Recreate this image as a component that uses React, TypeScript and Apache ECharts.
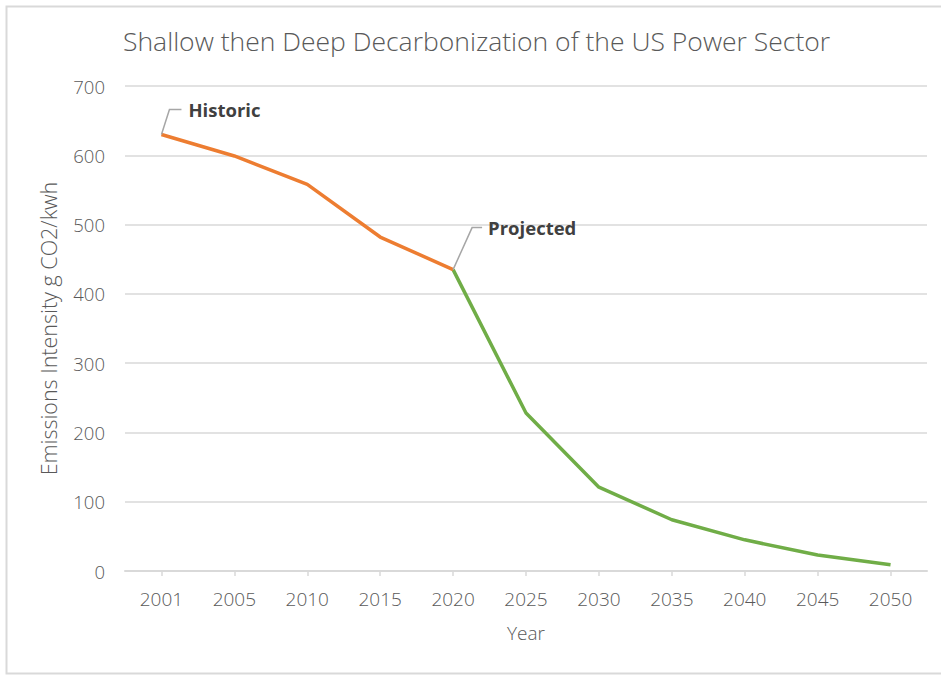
import React, { useEffect, useRef } from "react";
import * as echarts from "echarts";

const years = ["2001", "2005", "2010", "2015", "2020", "2025", "2030", "2035", "2040", "2045", "2050"];
const historic = [630, 599, 558, 482, 435];
const projected = [435, 228, 121, 74, 45, 23, 9];
const projectedStart = 4;
const titleText = "Shallow then Deep Decarbonization of the US Power Sector";
const yName = "Emissions Intensity g CO2/kwh";
const xName = "Year";
const annotations = [
  { label: "Historic", index: 0, series: "historic" },
  { label: "Projected", index: 4, series: "historic" },
];

const FONT = "'Open Sans', Lato, sans-serif";
const TXT = "#595959";
const GRID = "#D9D9D9";

export default function App() {
  const ref = useRef<HTMLDivElement>(null);
  useEffect(() => {
    if (!ref.current) return;
    const chart = echarts.init(ref.current, undefined, { renderer: "svg" });
    const histData = years.map((_, i) => (i < historic.length ? historic[i] : null));
    const projData = years.map((_, i) => (i >= projectedStart ? projected[i - projectedStart] : null));
    const border = {
      type: "rect",
      id: "border",
      shape: { x: 6.5, y: 6.5, width: 960, height: 667 },
      style: { fill: "none", stroke: GRID, lineWidth: 2 },
      silent: true,
      z: -1,
    };
    chart.setOption({
      animation: false,
      backgroundColor: "#ffffff",
      textStyle: { fontFamily: FONT },
      title: {
        text: titleText,
        left: 118,
        top: 22,
        textStyle: { fontFamily: FONT, fontWeight: 300, fontSize: 26.5, color: TXT },
      },
      grid: { left: 125, right: 14, top: 86, bottom: 104, containLabel: false },
      xAxis: {
        type: "category",
        data: years,
        boundaryGap: true,
        name: xName,
        nameLocation: "middle",
        nameGap: 52,
        nameTextStyle: { fontFamily: FONT, fontWeight: 300, fontSize: 19, color: TXT },
        axisLine: { show: true, lineStyle: { color: GRID, width: 2 } },
        axisTick: { show: true, alignWithLabel: true, length: 5, lineStyle: { color: GRID, width: 1.5 } },
        axisLabel: { fontFamily: FONT, fontWeight: 300, fontSize: 19, color: TXT, margin: 18 },
        splitLine: { show: false },
      },
      yAxis: {
        type: "value",
        min: 0,
        max: 700,
        interval: 100,
        name: yName,
        nameLocation: "middle",
        nameGap: 66,
        nameTextStyle: { fontFamily: FONT, fontWeight: 300, fontSize: 21.5, color: TXT },
        axisLine: { show: false },
        axisTick: { show: false },
        axisLabel: { fontFamily: FONT, fontWeight: 300, fontSize: 18.5, color: TXT, margin: 20 },
        splitLine: { show: true, lineStyle: { color: GRID, width: 1.5 } },
      },
      series: [
        {
          name: "historic",
          type: "line",
          data: histData,
          showSymbol: false,
          symbol: "none",
          lineStyle: { color: "#ED7D31", width: 3.5 },
          itemStyle: { color: "#ED7D31" },
          z: 3,
        },
        {
          name: "projected",
          type: "line",
          data: projData,
          showSymbol: false,
          symbol: "none",
          lineStyle: { color: "#70AD47", width: 3.5 },
          itemStyle: { color: "#70AD47" },
          z: 2,
        },
      ],
      graphic: [border],
    });

    const offsets = [
      { bx: 8, by: -25, ex: 20, tx: 27 },
      { bx: 19, by: -42, ex: 29, tx: 35 },
    ];
    const graphics: any[] = [border];
    annotations.forEach((a, k) => {
      const v = historic[a.index];
      const p = chart.convertToPixel({ xAxisIndex: 0, yAxisIndex: 0 }, [a.index, v]) as number[];
      const o = offsets[k];
      graphics.push({
        type: "polyline",
        id: "lead" + k,
        shape: {
          points: [
            [p[0], p[1]],
            [p[0] + o.bx, p[1] + o.by],
            [p[0] + o.ex, p[1] + o.by],
          ],
        },
        style: { stroke: "#A6A6A6", lineWidth: 1.5, fill: "none" },
        z: 10,
      });
      graphics.push({
        type: "text",
        id: "txt" + k,
        x: p[0] + o.tx,
        y: p[1] + o.by,
        style: {
          text: a.label,
          fontFamily: FONT,
          fontWeight: "bold",
          fontSize: 18.5,
          fill: "#404040",
          textVerticalAlign: "middle",
          verticalAlign: "middle",
          textAlign: "left",
        },
        z: 10,
      });
    });
    chart.setOption({ graphic: graphics });
    return () => chart.dispose();
  }, []);
  return (
    <div
      ref={ref}
      style={{ position: "fixed", left: 0, top: 0, width: 941, height: 675, background: "#fff" }}
    />
  );
}
